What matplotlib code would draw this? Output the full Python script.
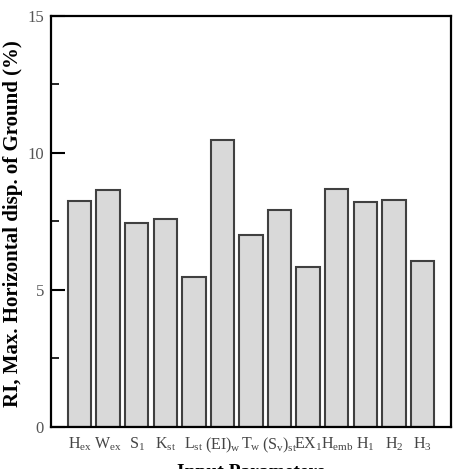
import matplotlib
matplotlib.use("Agg")
import matplotlib.pyplot as plt
from matplotlib.ticker import MultipleLocator

plt.rcParams['font.family'] = ['Liberation Serif', 'DejaVu Serif']
plt.rcParams['mathtext.fontset'] = 'custom'
plt.rcParams['mathtext.rm'] = 'Liberation Serif'
plt.rcParams['mathtext.it'] = 'Liberation Serif:italic'

# Data
params = [r'H$_{\rm ex}$', r'W$_{\rm ex}$', r'S$_{\rm 1}$', r'K$_{\rm st}$', r'L$_{\rm st}$',
          r'(EI)$_{\rm w}$', r'T$_{\rm w}$', r'(S$_{\rm v}$)$_{\rm st}$', r'EX$_{\rm 1}$',
          r'H$_{\rm emb}$', r'H$_{\rm 1}$', r'H$_{\rm 2}$', r'H$_{\rm 3}$']
ri_values = [8.24, 8.64, 7.44, 7.58, 5.46, 10.47, 6.99, 7.91, 5.85, 8.69, 8.20, 8.30, 6.05]

fig = plt.figure(figsize=(4.57, 4.69), dpi=100)
ax = fig.add_axes([0.1116, 0.0896, 0.8754, 0.8763])

x = list(range(1, len(params) + 1))
ax.bar(x, ri_values, width=0.82, color='#d9d9d9', edgecolor='#404040', linewidth=1.5)

ax.set_xlim(0, 14)
ax.set_ylim(0, 15)
ax.set_xticks(x)
ax.set_xticklabels(params, fontsize=11.5, color='#444444')
ax.tick_params(axis='x', length=0, pad=6)

ax.yaxis.set_major_locator(MultipleLocator(5))
ax.yaxis.set_minor_locator(MultipleLocator(2.5))
ax.tick_params(axis='y', which='major', direction='in', length=10, width=1.5,
               labelsize=12, labelcolor='#555555', pad=5)
ax.tick_params(axis='y', which='minor', direction='in', length=6, width=1.2)

for s in ax.spines.values():
    s.set_linewidth(1.6)

ax.set_ylabel('RI, Max. Horizontal disp. of Ground (%)', fontsize=15,
              fontweight='bold', va='center')
ax.yaxis.set_label_coords(-0.095, 0.495)
ax.set_xlabel('Input Parameters', fontsize=14, fontweight='bold', labelpad=7)

fig.savefig('out.png', dpi=100)
